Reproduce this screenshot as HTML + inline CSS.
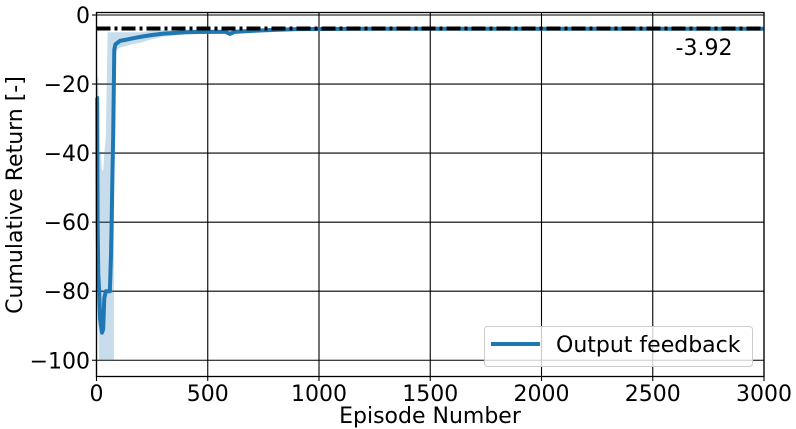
<!DOCTYPE html>
<html><head><meta charset="utf-8"><style>
html,body{margin:0;padding:0;background:#fff;}
svg{display:block;font-family:"DejaVu Sans","Liberation Sans",sans-serif;}
</style></head><body>
<svg id="chart" width="796" height="429" viewBox="0 0 796 429" xmlns="http://www.w3.org/2000/svg">
<g id="grid"></g>
<g id="band"></g>
<g id="series"></g>
<g id="ref"></g>
<rect x="96.5" y="12.5" width="667.5" height="364" fill="none" stroke="#000" stroke-width="1.3"/>
<g id="xticks"></g>
<g id="yticks"></g>
<text x="704" y="55" font-size="22" text-anchor="middle">-3.92</text>
<text x="430" y="423" font-size="22" text-anchor="middle">Episode Number</text>
<text transform="translate(22,195) rotate(-90)" font-size="22" text-anchor="middle">Cumulative Return [-]</text>
<g>
<rect x="484.5" y="326.5" width="268" height="40" rx="3" fill="rgba(255,255,255,0.8)" stroke="#ccc" stroke-width="1"/>
<line x1="491" y1="344" x2="540" y2="344" stroke="#1f77b4" stroke-width="4"/>
<text x="556" y="352" font-size="22">Output feedback</text>
</g>
</svg>
<script>
const xTicks=[0,500,1000,1500,2000,2500,3000];
const yTicks=[0,-20,-40,-60,-80,-100];
const refValue=-3.92;
const episodes=[0,3,5,8,12,16,20,25,30,35,42,50,60,65,68,72,75,78,80,85,95,105,130,160,200,250,300,400,500,580,600,620,700,800,900,1200,1500,2000,2500,3000];
const meanReturn=[-24,-24,-60,-75,-80,-88,-90,-92,-91,-82,-80,-80,-80,-70,-60,-45,-35,-20,-10,-8.5,-8,-7.5,-7.2,-6.8,-6.3,-5.8,-5.4,-5,-4.9,-4.9,-5.5,-4.9,-4.6,-4.3,-4.1,-4,-4,-4,-4,-4];
const bandUpper=[-20,-20,-18,-18,-40,-40,-40,-45,-45,-40,-35,-5,-5,-5,-5,-5,-5,-5,-5,-5,-5,-5,-5,-5,-5,-4.5,-4.3,-4.2,-4.2,-4.2,-4.5,-4.2,-4,-3.9,-3.9,-3.9,-3.9,-3.9,-3.9,-3.9];
const bandLower=[-30,-30,-80,-90,-100,-100,-100,-100,-100,-100,-100,-100,-100,-100,-100,-100,-100,-100,-12,-11,-10,-9.5,-9,-8.5,-8,-7,-6.3,-5.6,-5.3,-5.2,-5.8,-5.2,-4.9,-4.6,-4.3,-4.1,-4.1,-4.1,-4.1,-4.1];
const NS="http://www.w3.org/2000/svg";
const X0=96.5,X1=764,Y0=15,YK=3.4525;
function sx(v){return X0+(v/3000)*(X1-X0);}
function sy(v){return Y0-v*YK;}
function mk(tag,attrs,parent){const e=document.createElementNS(NS,tag);for(const k in attrs)e.setAttribute(k,attrs[k]);parent.appendChild(e);return e;}
const grid=document.getElementById('grid'),xt=document.getElementById('xticks'),yt=document.getElementById('yticks');
xTicks.forEach(t=>{
  const l=mk('line',{x1:sx(t),x2:sx(t),y1:12.5,y2:376.5,stroke:'#000','stroke-width':1.1},grid);
  
  
  const tk=mk('line',{x1:sx(t),x2:sx(t),y1:376.5,y2:381,stroke:'#000','stroke-width':1.1},xt);
  
  
  const tx=mk('text',{x:sx(t),y:401,'font-size':22,'text-anchor':'middle'},xt);
  tx.textContent=t;
  
  
});
yTicks.forEach(t=>{
  const l=mk('line',{x1:96.5,x2:764,y1:sy(t),y2:sy(t),stroke:'#000','stroke-width':1.1},grid);
  
  
  const tk=mk('line',{x1:92,x2:96.5,y1:sy(t),y2:sy(t),stroke:'#000','stroke-width':1.1},yt);
  
  
  const tx=mk('text',{x:90,y:sy(t)+8,'font-size':22,'text-anchor':'end'},yt);
  tx.textContent=t<0?'\u2212'+Math.abs(t):String(t);
  
  
});
let d='';
episodes.forEach((e,i)=>{d+=(i?'L':'M')+sx(e)+','+sy(bandUpper[i]);});
for(let i=episodes.length-1;i>=0;i--)d+='L'+sx(episodes[i])+','+sy(bandLower[i]);
const band=mk('path',{d:d+'Z',fill:'#1f77b4','fill-opacity':0.25,stroke:'none'},document.getElementById('band'));


const pts=episodes.map((e,i)=>sx(e)+','+sy(meanReturn[i])).join(' ');
const pl=mk('polyline',{points:pts,fill:'none',stroke:'#1f77b4','stroke-width':4,'stroke-linejoin':'round'},document.getElementById('series'));


const rl=mk('line',{x1:96.5,x2:764,y1:sy(refValue),y2:sy(refValue),stroke:'#000','stroke-width':4,'stroke-dasharray':'14 4 3 4'},document.getElementById('ref'));


</script>
</body></html>
